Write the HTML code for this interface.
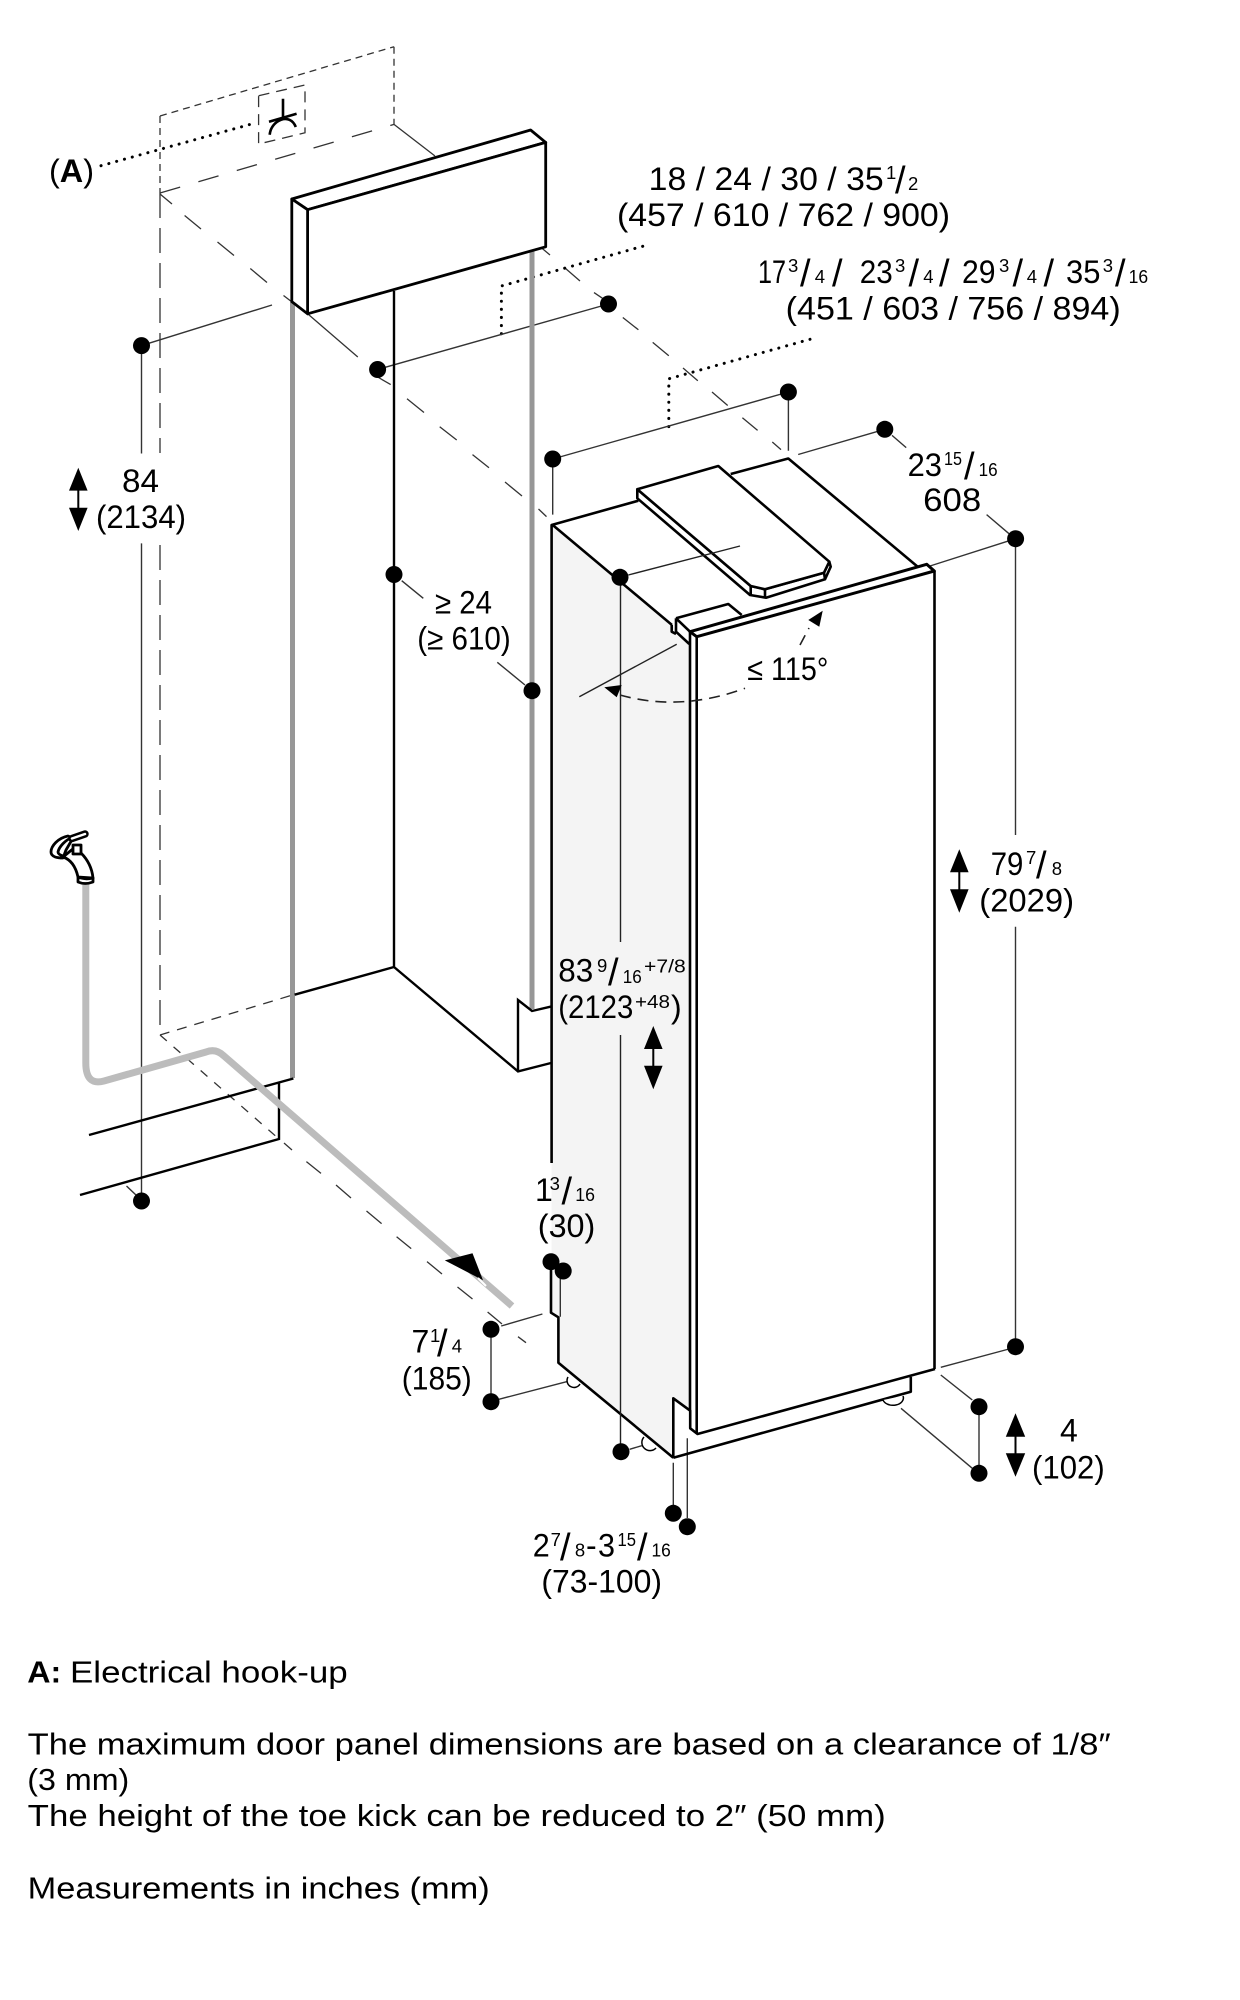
<!DOCTYPE html>
<html><head><meta charset="utf-8"><style>
html,body{margin:0;padding:0;background:#fff}
svg{display:block}
text{font-family:"Liberation Sans",sans-serif;font-size:32px;fill:#000}
.s{font-size:18.5px}
.sl{font-size:38px}
.n{font-size:31px}
</style></head><body>
<svg width="1240" height="2000" viewBox="0 0 1240 2000" xmlns="http://www.w3.org/2000/svg">
<rect width="1240" height="2000" fill="#fff"/>
<!-- panel side fill -->
<polygon points="552.7,525 672,625 690,644 690,1411 673.3,1398.3 673.3,1457.7 558.4,1362.7 558.4,1317.3 551.5,1312.7 551.5,525" fill="#f4f4f4"/>
<!-- dashed construction -->
<g fill="none" stroke="#333" stroke-width="1.3">
<path d="M160 116L394 46.7M394 46.7V124.4M160 116V193" stroke-dasharray="7 5"/>
<path d="M258.6 95.7L305 85V132.8L258.6 144Z" stroke-dasharray="11 7"/>
<path d="M160 193L394 124.4" stroke-dasharray="21 19"/>
<path d="M160 193V453" stroke-dasharray="25 10"/>
<path d="M160 545V1035" stroke-dasharray="25 10"/>
<path d="M290 995.8L160 1035" stroke-dasharray="10 8"/>
<path d="M160 194L172 204M184.6 215.5L201 229M217.5 242L234 255.5M250.3 268.5L267 282.5M283.5 295.5L292 302M307.6 313.8L357.8 357M377.6 377L390.7 384.6M407 398.8L424 412.5M439.7 426.7L456.7 440M472.5 454.6L489 467.7M505 482L522 496M538.5 509L546.5 516.6"/>
<path d="M394 124.4L435 156M542.4 248.6L550 255M564.7 267.8L580 281M594 292.6L602.7 298.4M622.8 317.5L638.4 329.8M652.7 342.4L668.8 355.8M683 368L697.8 380.7M712 392L727.7 405.5M742.4 417.8L757.6 430.4M772.3 442L781 449.6"/>
<path d="M160 1035L279 1139" stroke-dasharray="9 9"/>
<path d="M284 1143L292 1150M306.4 1161.6L321 1173.4M336 1185L351 1198M366.5 1211L381.6 1223.6M396.6 1236.7L411.2 1248.6M427 1261.6L442 1274M457.5 1287L472.5 1299M487.6 1312L502 1324M518 1336.7L526 1342.7"/>
</g>
<!-- dotted -->
<g fill="none" stroke="#000" stroke-width="3" stroke-linecap="round" stroke-dasharray="0.1 8">
<path d="M101 165.7L257 122.5"/>
<path d="M501.4 333.7V286L643.7 246"/>
<path d="M668.8 426.6V378.8L810 339.3"/>
</g>
<!-- socket symbol -->
<g fill="none" stroke="#000" stroke-width="2.6">
<path d="M283 98.7V118.6M269 121.7L296.6 113.7"/>
<path d="M269.7 134.7C271 120 290 112 295.8 127"/>
</g>
<!-- thin dimension leaders -->
<g fill="none" stroke="#333" stroke-width="1.4">
<path d="M141.5 345.6L272 305M141.5 345.6V453.5M141.5 543.4V1201M126.5 1186L136 1195"/>
<path d="M377.6 369.5L608.5 304"/>
<path d="M401.7 580.7L423.3 598.3M497.3 662.3L525 685"/>
<path d="M552.7 459L788.4 392M552.7 459V514.6M788.4 392V450.7M798.2 454.5L884.8 429.3M892 435.4L906.2 447.6M986.6 514.6L1009 533.7M930 566L1015.6 538.7"/>
<path d="M1015.5 538.7V835M1015.5 926.7V1346.7M940.8 1367.3L1009 1349M940.8 1375L972.3 1400M979 1406.7V1473.3M901 1408.3L972.3 1468.3"/>
<path d="M501.2 1326L542.4 1314M498.8 1399.3L566.6 1381.7M491 1329.3V1401.7M560.3 1273V1316.7"/>
<path d="M629.6 1449.3L641.8 1445.7M673.3 1462.7V1505M687.3 1438.3V1518"/>
</g>
<!-- gray verticals -->
<path d="M292.5 302V1078" stroke="#979797" stroke-width="5" fill="none"/>
<path d="M532 250V1009" stroke="#979797" stroke-width="5" fill="none"/>
<!-- niche black -->
<g fill="none" stroke="#000" stroke-width="2.4">
<path d="M394 291V967L294.6 994.7M394 967L518 1071.4L551 1063M518 1071.4V1000L532 1011L551 1006.6"/>
<path d="M293.4 1078.5L89 1135M279 1083V1139L80 1195"/>
</g>
<!-- header box -->
<g stroke="#000" stroke-width="2.8" stroke-linejoin="round">
<polygon points="291.8,199 530.6,130 545.7,142.4 307.6,209.7" fill="#fff"/>
<polygon points="307.6,209.7 545.7,142.4 545.7,246.8 307.6,313.8" fill="#fff"/>
<polygon points="291.8,199 307.6,209.7 307.6,313.8 291.8,301.6" fill="#fff"/>
</g>
<!-- hose -->
<path d="M85.8 884V1063Q85.8 1086 104 1081L206 1052Q216 1048 224 1056L512 1306" fill="none" stroke="#bcbcbc" stroke-width="7"/>
<polygon points="444.8,1260.4 472.5,1253.3 483,1280.2" fill="#000"/>
<path d="M478 1278L486 1286" stroke="#fff" stroke-width="2"/>
<!-- faucet -->
<g fill="#fff" stroke="#000" stroke-width="2.8" stroke-linejoin="round" stroke-linecap="round">
<path d="M68 836C58 838 51 846 51 852C51 857 58 858 63 858L66 850L73 838Z"/>
<path d="M73 837C65 840 59 847 58 852C58 854 60 855 63 856" fill="none"/>
<path d="M63 857C72 860 76 868 78 877L93 878C92 868 88 860 81 853L74 848Z"/>
<path d="M73 845H81V854H73Z"/>
<path d="M72 838.5L85 834" stroke-width="7.5"/>
<path d="M72 838.5L85 834" stroke="#fff" stroke-width="2.5"/>
<path d="M78 877Q85 880 93 878L93 882Q85 885 78 882Z"/>
</g>
<!-- fridge -->
<g fill="none" stroke="#000" stroke-width="2.6" stroke-linejoin="round">
<path d="M551.6 1163V525L638.3 500.7M552.7 525L672 625"/>
<path d="M551 1270V1312.7L558.4 1317.3V1362.7L673.3 1457.7"/>
<path d="M730.7 474L788.3 458.5L917.7 566.7"/>
<path d="M637.3 489.3V498.3L750 595L766 597.7L825 579.3L830.7 566.7L829.3 561.7L824 572.7L765 589.3L750.7 586Z" fill="#fff"/>
<path d="M637.3 489.3L718.3 466L829.3 561.7L824 572.7L765 589.3L750.7 586Z" fill="#fff"/>
<path d="M750.7 586V595M765 589.3V597.7M824 572.7L825 579.3"/>
<path d="M676 618.3L728.3 604L741.7 615"/>
<path d="M676 618.3L690 631.7M676 618.3V631.7L689.3 644M671.7 625V631.7L676 634"/>
<path d="M690 631.7L926.7 564.3L934.3 571L696.7 636.7L690 631.7Z" fill="#fff" stroke-width="3"/>
<path d="M690 632V1410.7M696.7 636.7V1434M934.5 571V1369"/>
<path d="M673.3 1457.7V1398.3L690.2 1410.7V1428.3L697.5 1434L935 1369"/>
<path d="M910.8 1376.7V1391.7L673.3 1457.7"/>
</g>
<!-- casters -->
<g fill="#fff" stroke="#000" stroke-width="1.5">
<path d="M568 1377A6 6 0 0 0 580 1384"/>
<path d="M644 1437A7 7 0 0 0 656 1448"/>
<path d="M883 1400A10 7 0 0 0 903 1396"/>
</g>
<!-- angle -->
<g fill="none" stroke="#222" stroke-width="1.4">
<path d="M676.7 644.3L579.3 696.7"/>
<path d="M620 695Q680 712 745 688.3M800 645L809 628" stroke-dasharray="11 7" stroke-width="1.6"/>
<path d="M628.3 575L740 546"/>
<path d="M620.5 577V942M620.5 1035V1452"/>
</g>
<polygon points="822.7,610.7 808.3,620 819.3,626.7" fill="#000"/>
<polygon points="604.3,687.3 621.7,685 616.7,697.3" fill="#000"/>
<!-- dots -->
<g fill="#000">
<circle cx="141.5" cy="345.6" r="8.5"/><circle cx="141.5" cy="1201" r="8.5"/>
<circle cx="377.6" cy="369.5" r="8.5"/><circle cx="608.5" cy="304" r="8.5"/>
<circle cx="394" cy="574.5" r="8.5"/><circle cx="532" cy="690.7" r="8.5"/>
<circle cx="552.7" cy="459" r="8.5"/><circle cx="788.4" cy="392" r="8.5"/>
<circle cx="884.8" cy="429.3" r="8.5"/><circle cx="1015.6" cy="538.7" r="8.5"/>
<circle cx="620" cy="577.3" r="8.5"/><circle cx="1015.5" cy="1346.7" r="8.5"/>
<circle cx="979" cy="1406.7" r="8.5"/><circle cx="979" cy="1473.3" r="8.5"/>
<circle cx="621" cy="1451.7" r="8.5"/><circle cx="551" cy="1261.7" r="8.5"/>
<circle cx="563.2" cy="1271" r="8.5"/><circle cx="491" cy="1329.3" r="8.5"/>
<circle cx="491" cy="1401.7" r="8.5"/><circle cx="673.3" cy="1513.3" r="8.5"/>
<circle cx="687.3" cy="1526.7" r="8.5"/>
</g>
<!-- double arrows -->
<g fill="#000" stroke="none">
<path d="M78.3 467.7L87.6 490.6H79.3V507.8H87.6L78.3 531L69 507.8H77.3V490.6H69Z"/>
<path d="M959.3 849.3L968.6 872.3H960.3V889.3H968.6L959.3 912.7L950 889.3H958.3V872.3H950Z"/>
<path d="M653.3 1026L662.6 1049H654.3V1065.7H662.6L653.3 1089.3L644 1065.7H652.3V1049H644Z"/>
<path d="M1015.5 1413.3L1025.2 1436.7H1016.5V1453.3H1025.2L1015.5 1476.7L1005.8 1453.3H1014.5V1436.7H1005.8Z"/>
</g>
<!-- labels -->
<text x="49" y="182" textLength="45" lengthAdjust="spacingAndGlyphs">(<tspan font-weight="700">A</tspan>)</text>
<text x="122" y="492" textLength="37" lengthAdjust="spacingAndGlyphs">84</text>
<text x="96" y="528" textLength="90" lengthAdjust="spacingAndGlyphs">(2134)</text>

<text x="648.7" y="190" textLength="235" lengthAdjust="spacingAndGlyphs">18 / 24 / 30 / 35</text>
<text class="s" x="886" y="179">1</text><text class="sl" x="895" y="193">/</text><text class="s" x="908" y="190">2</text>
<text x="617" y="226" textLength="333" lengthAdjust="spacingAndGlyphs">(457 / 610 / 762 / 900)</text>

<text x="758" y="283" textLength="28" lengthAdjust="spacingAndGlyphs">17</text><text class="s" x="788" y="272">3</text><text class="sl" x="800" y="286">/</text><text class="s" x="814.7" y="283">4</text><text class="sl" x="832" y="286">/</text>
<text x="859.8" y="283" textLength="33" lengthAdjust="spacingAndGlyphs">23</text><text class="s" x="895" y="272">3</text><text class="sl" x="908.5" y="286">/</text><text class="s" x="923.2" y="283">4</text><text class="sl" x="939" y="286">/</text>
<text x="962" y="283" textLength="33.5" lengthAdjust="spacingAndGlyphs">29</text><text class="s" x="999" y="272">3</text><text class="sl" x="1012.5" y="286">/</text><text class="s" x="1026.8" y="283">4</text><text class="sl" x="1043.5" y="286">/</text>
<text x="1066" y="283" textLength="34.4" lengthAdjust="spacingAndGlyphs">35</text><text class="s" x="1102.7" y="272">3</text><text class="sl" x="1115" y="286">/</text><text class="s" x="1128.6" y="283" textLength="19.5" lengthAdjust="spacingAndGlyphs">16</text>
<text x="785.7" y="319.5" textLength="335" lengthAdjust="spacingAndGlyphs">(451 / 603 / 756 / 894)</text>

<text x="907.6" y="476" textLength="34.4" lengthAdjust="spacingAndGlyphs">23</text><text class="s" x="944" y="465" textLength="18" lengthAdjust="spacingAndGlyphs">15</text><text class="sl" x="964" y="479">/</text><text class="s" x="978.6" y="476" textLength="19" lengthAdjust="spacingAndGlyphs">16</text>
<text x="923.2" y="511" textLength="58" lengthAdjust="spacingAndGlyphs">608</text>

<text x="435" y="613.3" textLength="57" lengthAdjust="spacingAndGlyphs">≥ 24</text>
<text x="417.3" y="649.3" textLength="93.4" lengthAdjust="spacingAndGlyphs">(≥ 610)</text>

<text x="747.3" y="680" textLength="81" lengthAdjust="spacingAndGlyphs">≤ 115°</text>

<text x="990.7" y="875" textLength="32.6" lengthAdjust="spacingAndGlyphs">79</text><text class="s" x="1026" y="864">7</text><text class="sl" x="1036" y="878">/</text><text class="s" x="1051.7" y="875">8</text>
<text x="979.3" y="911.7" textLength="94.7" lengthAdjust="spacingAndGlyphs">(2029)</text>

<text x="558.3" y="981.7" textLength="35" lengthAdjust="spacingAndGlyphs">83</text><text class="s" x="597" y="972">9</text><text class="sl" x="608" y="985">/</text><text class="s" x="622.7" y="983" textLength="19" lengthAdjust="spacingAndGlyphs">16</text><text class="s" x="644" y="972.7" textLength="41.7" lengthAdjust="spacingAndGlyphs">+7/8</text>
<text x="558.3" y="1018" textLength="75" lengthAdjust="spacingAndGlyphs">(2123</text><text class="s" x="635" y="1008" textLength="35" lengthAdjust="spacingAndGlyphs">+48</text><text x="671" y="1018">)</text>

<text x="535" y="1201">1</text><text class="s" x="549.6" y="1190">3</text><text class="sl" x="561.5" y="1204">/</text><text class="s" x="575.3" y="1201" textLength="19.7" lengthAdjust="spacingAndGlyphs">16</text>
<text x="537.8" y="1237" textLength="57.5" lengthAdjust="spacingAndGlyphs">(30)</text>

<text x="411.5" y="1352.7">7</text><text class="s" x="430" y="1342">1</text><text class="sl" x="437" y="1356">/</text><text class="s" x="451.7" y="1352.7">4</text>
<text x="401.8" y="1389.3" textLength="70" lengthAdjust="spacingAndGlyphs">(185)</text>

<text x="1060" y="1441.7">4</text>
<text x="1032" y="1478.3" textLength="72.7" lengthAdjust="spacingAndGlyphs">(102)</text>

<text x="532.7" y="1556.7" textLength="17" lengthAdjust="spacingAndGlyphs">2</text><text class="s" x="550.6" y="1546">7</text><text class="sl" x="560" y="1560">/</text><text class="s" x="574.9" y="1556.7">8</text><text x="586" y="1556.7">-</text><text x="598" y="1556.7" textLength="17" lengthAdjust="spacingAndGlyphs">3</text><text class="s" x="617.5" y="1546" textLength="18.5" lengthAdjust="spacingAndGlyphs">15</text><text class="sl" x="637" y="1560">/</text><text class="s" x="651.5" y="1556.7" textLength="19.3" lengthAdjust="spacingAndGlyphs">16</text>
<text x="541.4" y="1592.7" textLength="120.6" lengthAdjust="spacingAndGlyphs">(73-100)</text>

<!-- notes -->
<text class="n" x="27.3" y="1682.3" font-weight="700" textLength="34" lengthAdjust="spacingAndGlyphs">A:</text>
<text class="n" x="70" y="1682.3" textLength="277.7" lengthAdjust="spacingAndGlyphs">Electrical hook-up</text>
<text class="n" x="27.7" y="1754.3" textLength="1083" lengthAdjust="spacingAndGlyphs">The maximum door panel dimensions are based on a clearance of 1/8″</text>
<text class="n" x="27.3" y="1790" textLength="102" lengthAdjust="spacingAndGlyphs">(3 mm)</text>
<text class="n" x="27.7" y="1826" textLength="858" lengthAdjust="spacingAndGlyphs">The height of the toe kick can be reduced to 2″ (50 mm)</text>
<text class="n" x="27.7" y="1898.3" textLength="462" lengthAdjust="spacingAndGlyphs">Measurements in inches (mm)</text>
</svg>
</body></html>
